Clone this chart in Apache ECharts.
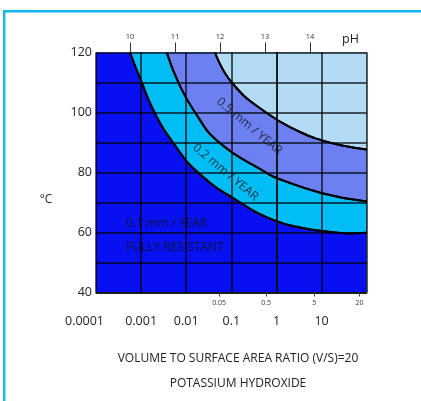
<!DOCTYPE html>
<html><head><meta charset="utf-8">
<script src="https://cdn.jsdelivr.net/npm/echarts@6/dist/echarts.min.js"></script>
<style>html,body{margin:0;padding:0;background:#fff}#c{width:421px;height:401px}</style>
</head><body><div id="c"></div>
<script>
// x values are log10(concentration)
const xTickLabels = ['0.0001','0.001','0.01','0.1','1','10',''];
const innerTickPos = [-1.27, -0.23, 0.84, 1.84];
const innerTickLabels = ['0.05','0.5','5','20'];
const pHTicks = [10, 11, 12, 13, 14];
const curve01 = [[-3.246,120],[-2.987,110],[-2.703,100],[-2.293,90],[-1.738,80],[-0.807,70],[-0.075,64.2],[0.523,61.7],[1.188,60.2],[1.565,59.7],[2,59.9]];
const curve02 = [[-2.432,120],[-2.175,110],[-1.805,100],[-1.27,90],[-0.231,80],[0.013,78.1],[1.011,73.1],[2,70.3]];
const curve05 = [[-1.361,120],[-0.991,110],[-0.231,100],[0.523,93.5],[1.011,90.7],[1.521,88.8],[2,87.7]];
const curveNames = ['0.2 mm / YEAR','0.5 mm / YEAR'];
const curveLabelPos = [[-1.13,80.1],[-0.6,95.4]];
const zoneText = [['0.1 mm / YEAR',-3.335,63.1],['FULLY RESISTANT',-3.335,55.1]];

const FONT = '"Open Sans", "Noto Sans", sans-serif';
const chart = echarts.init(document.getElementById('c'), null, {renderer:'canvas'});
const gridLine = {show:true, lineStyle:{color:'rgba(0,0,0,0.85)', width:1.5}};
const sm = {smooth:0.5, symbol:'none'};
chart.setOption({
  animation:false,
  backgroundColor:'#fff',
  grid:{left:96, top:52.5, width:270.7, height:240, show:true, backgroundColor:'#0610f0', borderWidth:0},
  xAxis:[
    {type:'value', min:-4, max:2, interval:1, position:'bottom', z:5,
     axisLine:{show:true, lineStyle:{color:'#111', width:1.5}}, axisTick:{show:false},
     splitLine:gridLine,
     axisLabel:{margin:22, fontSize:12.5, color:'#222', fontFamily:FONT, showMaxLabel:true,
       formatter:function(v){const i=Math.round(v+4); const t=xTickLabels[i]||''; return i===0?'{s|'+t+'}':t;},
       rich:{s:{fontSize:12.5, color:'#222', fontFamily:FONT, padding:[0,23,0,0]}}}},
    {type:'value', min:-4, max:2, position:'bottom', z:5,
     axisLine:{show:false}, splitLine:{show:false},
     axisTick:{show:true, customValues:innerTickPos, length:4, lineStyle:{color:'#444', width:1}},
     axisLabel:{customValues:innerTickPos, margin:7, fontSize:7, color:'#333', fontFamily:FONT,
       formatter:function(v){const i=innerTickPos.findIndex(p=>Math.abs(p-v)<1e-6); return i>=0?innerTickLabels[i]:'';}}},
    {type:'value', min:9.244, max:15.26, position:'top', z:5,
     axisLine:{show:false}, splitLine:{show:false},
     axisTick:{show:true, customValues:pHTicks, length:10, lineStyle:{color:'#333', width:1}},
     axisLabel:{customValues:pHTicks, margin:12, fontSize:7.5, color:'#333', fontFamily:FONT}}
  ],
  yAxis:{type:'value', min:40, max:120, interval:10, z:5,
    axisLine:{show:true, lineStyle:{color:'#111', width:1.5}}, axisTick:{show:false},
    splitLine:gridLine,
    axisLabel:{margin:4, fontSize:12.5, color:'#222', fontFamily:FONT,
      formatter:function(v){return v%20===0?String(v):'';}}},
  series:[
    Object.assign({type:'line', data:curve01, z:2,
     lineStyle:{color:'#000', width:2}, areaStyle:{origin:'end', color:'#00bdf5', opacity:1}}, sm),
    Object.assign({type:'line', data:curve02, z:2,
     lineStyle:{color:'#000', width:2}, areaStyle:{origin:'end', color:'#6c80f2', opacity:1}}, sm),
    Object.assign({type:'line', data:curve05, z:2,
     lineStyle:{color:'#000', width:2}, areaStyle:{origin:'end', color:'#b2dbf4', opacity:1}}, sm),
    Object.assign({type:'line', data:curve01, z:6, lineStyle:{color:'#000', width:2}}, sm),
    Object.assign({type:'line', data:curve02, z:6, lineStyle:{color:'#000', width:2}}, sm),
    Object.assign({type:'line', data:curve05, z:6, lineStyle:{color:'#000', width:2}}, sm),
    {type:'scatter', symbolSize:0, z:7, silent:true,
     data:curveLabelPos.map((p,i)=>({value:p, name:curveNames[i]})),
     label:{show:true, position:'inside', formatter:'{b}', rotate:-40, fontSize:12, color:'#111', fontFamily:FONT}},
    {type:'scatter', symbolSize:0, z:7, silent:true,
     data:zoneText.map(t=>({value:[t[1],t[2]], name:t[0]})),
     label:{show:true, position:'inside', align:'left', formatter:'{b}', fontSize:12, color:'#111', fontFamily:FONT}}
  ],
  graphic:[
    {type:'rect', shape:{x:3, y:10, width:418, height:2.4}, style:{fill:'#14b6ef'}},
    {type:'rect', shape:{x:3, y:10, width:2.4, height:391}, style:{fill:'#14b6ef'}},
    {type:'text', left:342, top:33, style:{text:'pH', fontSize:12.5, fill:'#222', fontFamily:FONT}},
    {type:'text', x:46, y:200, style:{text:'°C', fontSize:12, fill:'#222', fontFamily:FONT, align:'center', verticalAlign:'middle'}},
    {type:'text', x:238, y:359, style:{text:'VOLUME TO SURFACE AREA RATIO (V/S)=20', fontSize:12, fill:'#222', fontFamily:FONT, align:'center', verticalAlign:'middle'}},
    {type:'text', x:238, y:384, style:{text:'POTASSIUM HYDROXIDE', fontSize:12, fill:'#222', fontFamily:FONT, align:'center', verticalAlign:'middle'}}
  ]
});
</script></body></html>
